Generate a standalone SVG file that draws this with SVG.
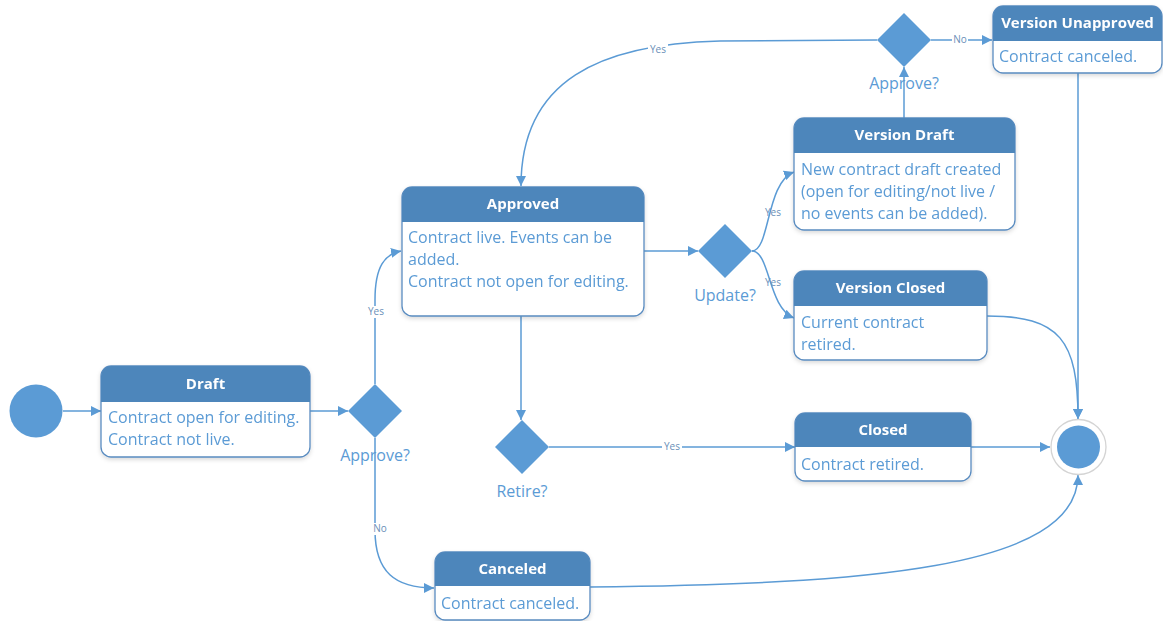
<svg xmlns="http://www.w3.org/2000/svg" width="1163" height="621" viewBox="0 0 1163 621">
<style>
  .box{fill:#ffffff;stroke:#5a8cc0;stroke-width:1.3}
  .hdr{fill:#4e86bb}
  .title{font-family:"Open Sans","Noto Sans",sans-serif;font-size:15px;font-weight:bold;fill:#ffffff;text-anchor:middle}
  .body{font-family:"Open Sans","Noto Sans",sans-serif;font-size:16px;fill:#5b9bd5}
  .dlabel{font-family:"Open Sans","Noto Sans",sans-serif;font-size:16px;fill:#5b9bd5;text-anchor:middle}
  .dia{fill:#5b9bd5}
  .conn{fill:none;stroke:#5b9bd5;stroke-width:1.5}
  .clabel{font-family:"Open Sans","Noto Sans",sans-serif;font-size:10px;fill:#6a8fb8;text-anchor:middle;dominant-baseline:middle}
  .lbg{fill:#ffffff}
</style>
<defs>
  <marker id="arr" viewBox="0 0 10 10" refX="10" refY="5" markerWidth="10" markerHeight="10" markerUnits="userSpaceOnUse" orient="auto">
    <path d="M0,0 L10,5 L0,10 Z" fill="#5b9bd5"/>
  </marker>
  <filter id="sh" x="-10%" y="-10%" width="120%" height="130%">
    <feDropShadow dx="0" dy="2" stdDeviation="2" flood-color="#000" flood-opacity="0.15"/>
  </filter>
</defs>

<g id="connectors">
  <path class="conn" d="M63,411 H101" marker-end="url(#arr)"/>
  <path class="conn" d="M310,411 H348" marker-end="url(#arr)"/>
  <path class="conn" d="M375,384 V300 C375,266 385,254 401,251" marker-end="url(#arr)"/>
  <path class="conn" d="M375,438 V530 C375,572 395,588 434,588" marker-end="url(#arr)"/>
  <path class="conn" d="M644,251 H698" marker-end="url(#arr)"/>
  <path class="conn" d="M752,251 C770,251 766,182 794,172" marker-end="url(#arr)"/>
  <path class="conn" d="M752,251 C770,251 768,308 794,318" marker-end="url(#arr)"/>
  <path class="conn" d="M904,118 V67" marker-end="url(#arr)"/>
  <path class="conn" d="M931,40 H992" marker-end="url(#arr)"/>
  <path class="conn" d="M877,40 L720,41 C600,44 521,80 521,186" marker-end="url(#arr)"/>
  <path class="conn" d="M521,316 V420" marker-end="url(#arr)"/>
  <path class="conn" d="M549,447 H795" marker-end="url(#arr)"/>
  <path class="conn" d="M971,447 H1050" marker-end="url(#arr)"/>
  <path class="conn" d="M1078,73 V419" marker-end="url(#arr)"/>
  <path class="conn" d="M987,316 C1060,316 1078,340 1078,419" marker-end="url(#arr)"/>
  <path class="conn" d="M590,587 C860,584 1078,570 1078,475" marker-end="url(#arr)"/>
  <rect class="lbg" x="366" y="306" width="20" height="12"/>
  <text class="clabel" x="376" y="312">Yes</text>
  <rect class="lbg" x="372" y="523" width="16" height="12"/>
  <text class="clabel" x="380" y="529">No</text>
  <text class="clabel" x="773" y="213">Yes</text>
  <text class="clabel" x="773" y="283">Yes</text>
  <rect class="lbg" x="648" y="44" width="20" height="12"/>
  <text class="clabel" x="658" y="50">Yes</text>
  <rect class="lbg" x="952" y="34" width="16" height="12"/>
  <text class="clabel" x="960" y="40">No</text>
  <rect class="lbg" x="662" y="441" width="20" height="12"/>
  <text class="clabel" x="672" y="447">Yes</text>
</g>

<g id="start">
  <circle cx="36" cy="411" r="26.5" fill="#5b9bd5"/>
</g>

<g id="draft" filter="url(#sh)">
  <rect class="box" x="101" y="366" width="209" height="91" rx="10"/>
  <path class="hdr" d="M101,402 V376 A10,10 0 0 1 111,366 H300 A10,10 0 0 1 310,376 V402 Z"/>
  <text class="title" x="205.5" y="389">Draft</text>
  <text class="body" x="108" y="423">Contract open for editing.</text>
  <text class="body" x="108" y="445">Contract not live.</text>
</g>

<g id="approve1">
  <path class="dia" d="M375,384 L402,411 L375,438 L348,411 Z"/>
  <text class="dlabel" x="375" y="461">Approve?</text>
</g>

<g id="approved" filter="url(#sh)">
  <rect class="box" x="402" y="187" width="242" height="129" rx="10"/>
  <path class="hdr" d="M402,222 V197 A10,10 0 0 1 412,187 H634 A10,10 0 0 1 644,197 V222 Z"/>
  <text class="title" x="523" y="209">Approved</text>
  <text class="body" x="408" y="243">Contract live. Events can be</text>
  <text class="body" x="408" y="265">added.</text>
  <text class="body" x="408" y="287">Contract not open for editing.</text>
</g>

<g id="update">
  <path class="dia" d="M725,224 L752,251 L725,278 L698,251 Z"/>
  <text class="dlabel" x="725" y="301">Update?</text>
</g>

<g id="versionDraft" filter="url(#sh)">
  <rect class="box" x="794" y="118" width="221" height="112" rx="10"/>
  <path class="hdr" d="M794,153 V128 A10,10 0 0 1 804,118 H1005 A10,10 0 0 1 1015,128 V153 Z"/>
  <text class="title" x="904.5" y="140">Version Draft</text>
  <text class="body" x="801" y="175">New contract draft created</text>
  <text class="body" x="801" y="197">(open for editing/not live /</text>
  <text class="body" x="801" y="219">no events can be added).</text>
</g>

<g id="versionClosed" filter="url(#sh)">
  <rect class="box" x="794" y="271" width="193" height="89" rx="10"/>
  <path class="hdr" d="M794,306 V281 A10,10 0 0 1 804,271 H977 A10,10 0 0 1 987,281 V306 Z"/>
  <text class="title" x="890.5" y="293">Version Closed</text>
  <text class="body" x="801" y="328">Current contract</text>
  <text class="body" x="801" y="350">retired.</text>
</g>

<g id="approve2">
  <path class="dia" d="M904,13 L931,40 L904,67 L877,40 Z"/>
  <text class="dlabel" x="904" y="89">Approve?</text>
</g>

<g id="versionUnapproved" filter="url(#sh)">
  <rect class="box" x="993" y="6" width="169" height="67" rx="10"/>
  <path class="hdr" d="M993,41 V16 A10,10 0 0 1 1003,6 H1152 A10,10 0 0 1 1162,16 V41 Z"/>
  <text class="title" x="1077.5" y="28">Version Unapproved</text>
  <text class="body" x="999" y="62">Contract canceled.</text>
</g>

<g id="retire">
  <path class="dia" d="M522,420 L549,447 L522,474 L495,447 Z"/>
  <text class="dlabel" x="522" y="497">Retire?</text>
</g>

<g id="closed" filter="url(#sh)">
  <rect class="box" x="795" y="413" width="176" height="68" rx="10"/>
  <path class="hdr" d="M795,447 V423 A10,10 0 0 1 805,413 H961 A10,10 0 0 1 971,423 V447 Z"/>
  <text class="title" x="883" y="435">Closed</text>
  <text class="body" x="801" y="470">Contract retired.</text>
</g>

<g id="canceled" filter="url(#sh)">
  <rect class="box" x="435" y="552" width="155" height="68" rx="10"/>
  <path class="hdr" d="M435,586 V562 A10,10 0 0 1 445,552 H580 A10,10 0 0 1 590,562 V586 Z"/>
  <text class="title" x="512.5" y="574">Canceled</text>
  <text class="body" x="441" y="609">Contract canceled.</text>
</g>

<g id="final">
  <circle cx="1078.5" cy="447" r="27.5" fill="#ffffff" stroke="#d4d4d4" stroke-width="1.3"/>
  <circle cx="1078.5" cy="447" r="21.5" fill="#5b9bd5"/>
</g>
</svg>
